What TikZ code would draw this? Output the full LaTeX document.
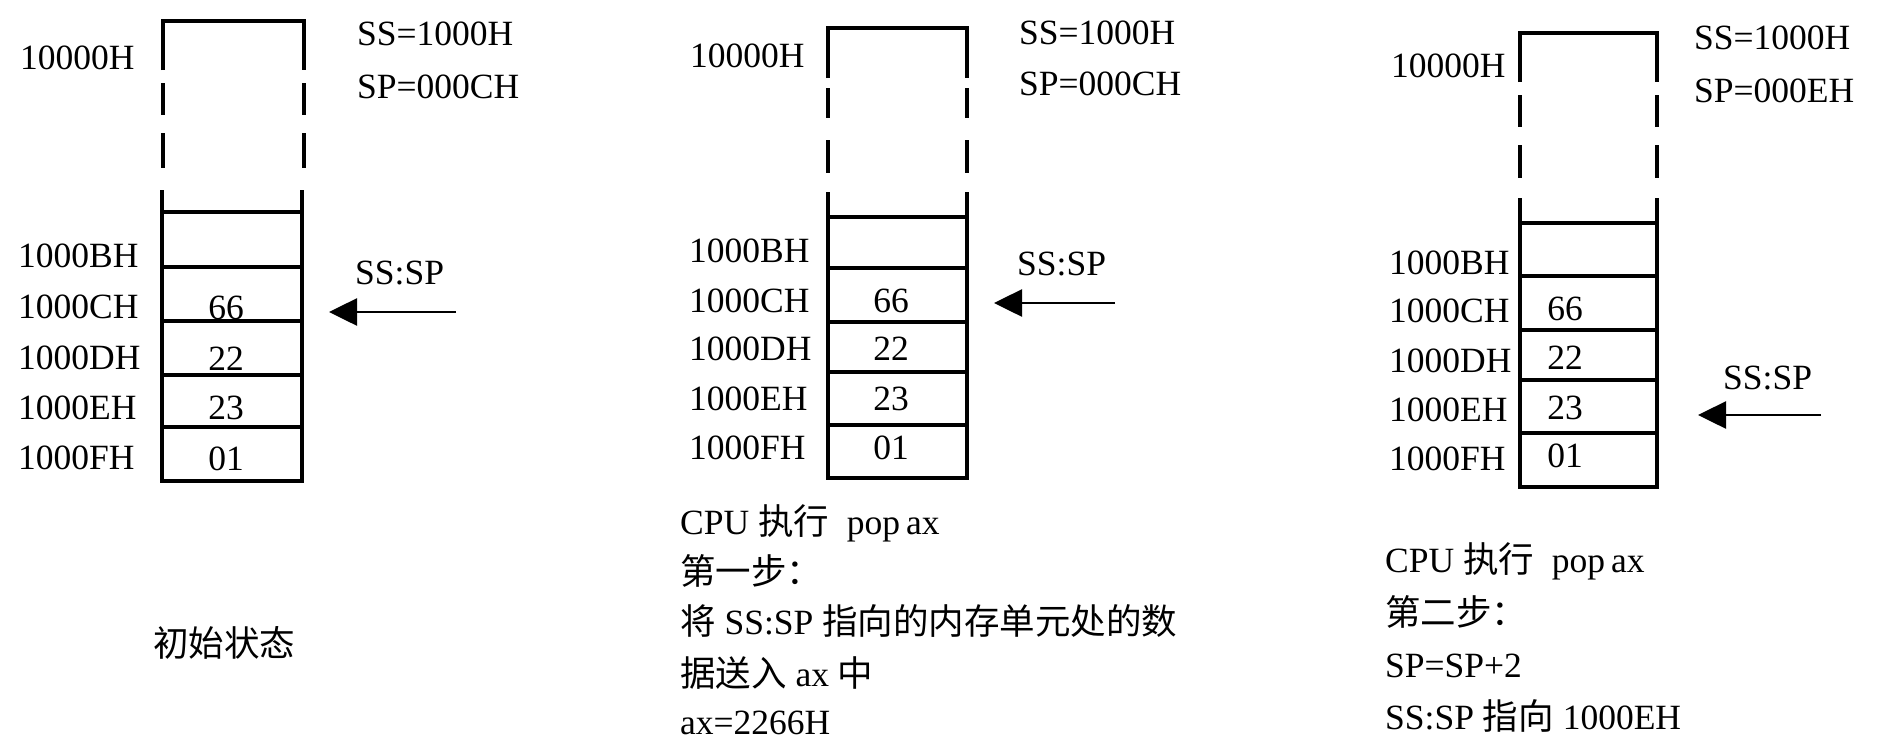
\documentclass[tikz,border=0pt]{standalone}
\usepackage{fontspec}
\setmainfont{Liberation Serif}
\newfontfamily\cjk{Noto Sans CJK SC}
\usetikzlibrary{arrows.meta}
\tikzset{
  lbl/.style={anchor=base west, inner sep=0pt},
  val/.style={anchor=base, inner sep=0pt},
  mem/.style={line width=3.6pt, line join=miter},
  ptr/.style={line width=2.6pt, -{Triangle[length=28pt,width=27pt]}},
}
\begin{document}
\begin{tikzpicture}[x=1pt, y=-1pt, font=\fontsize{35.5}{42}\selectfont]
\useasboundingbox (0,0) rectangle (1904,740);
\fill[white] (0,0) rectangle (1904,740);

% ===== Panel 1 =====
\draw[mem] (163,70) -- (163,21) -- (304,21) -- (304,70);
\draw[mem] (163,83) -- (163,115) (163,133) -- (163,168)
           (304,83) -- (304,115) (304,133) -- (304,168);
\draw[mem] (162,190) -- (162,481) -- (302,481) -- (302,190);
\foreach \y in {212,267,321,375,427} \draw[mem] (162,\y) -- (302,\y);
\node[lbl] (a1top) at (20,69) {10000H};
\node[lbl] (a1b) at (18,267) {1000BH};
\node[lbl] (a1c) at (18,318) {1000CH};
\node[lbl] (a1d) at (18,369) {1000DH};
\node[lbl] (a1e) at (18,419) {1000EH};
\node[lbl] (a1f) at (18,469) {1000FH};
\node[val] (v1c) at (226,319) {66};
\node[val] (v1d) at (226,370) {22};
\node[val] (v1e) at (226,419) {23};
\node[val] (v1f) at (226,470) {01};
\node[lbl] (ss1) at (357,45) {SS=1000H};
\node[lbl] (sp1) at (357,98) {SP=000CH};
\node[lbl] (ptrl1) at (355,284) {SS:SP};
\coordinate (p1s) at (456,312);
\coordinate (p1e) at (329,312);
\draw[ptr] (p1s) -- (p1e);
\node[anchor=west, inner sep=0pt, font=\fontsize{35.5}{42}\selectfont\cjk] (cap1) at (153,643) {初始状态};

% ===== Panel 2 =====
\draw[mem] (828,78) -- (828,28) -- (967,28) -- (967,78);
\draw[mem] (828,88) -- (828,118) (828,140) -- (828,173)
           (967,88) -- (967,118) (967,140) -- (967,173);
\draw[mem] (828,192) -- (828,478) -- (967,478) -- (967,192);
\foreach \y in {217,268,322,372,425} \draw[mem] (828,\y) -- (967,\y);
\node[lbl] (a2top) at (690,67) {10000H};
\node[lbl] (a2b) at (689,262) {1000BH};
\node[lbl] (a2c) at (689,312) {1000CH};
\node[lbl] (a2d) at (689,360) {1000DH};
\node[lbl] (a2e) at (689,410) {1000EH};
\node[lbl] (a2f) at (689,459) {1000FH};
\node[val] (v2c) at (891,312) {66};
\node[val] (v2d) at (891,360) {22};
\node[val] (v2e) at (891,410) {23};
\node[val] (v2f) at (891,459) {01};
\node[lbl] (ss2) at (1019,44) {SS=1000H};
\node[lbl] (sp2) at (1019,95) {SP=000CH};
\node[lbl] (ptrl2) at (1017,275) {SS:SP};
\coordinate (p2s) at (1115,303);
\coordinate (p2e) at (994,303);
\draw[ptr] (p2s) -- (p2e);
\node[lbl] (t2a) at (680,534) {CPU {\cjk 执行}\ \ pop\,ax};
\node[lbl] (t2b) at (680,584) {\cjk 第一步：};
\node[lbl] (t2c) at (680,634) {{\cjk 将} SS:SP {\cjk 指向的内存单元处的数}};
\node[lbl] (t2d) at (680,686) {{\cjk 据送入} ax {\cjk 中}};
\node[lbl] (t2e) at (680,734) {ax=2266H};

% ===== Panel 3 =====
\draw[mem] (1520,82) -- (1520,33) -- (1657,33) -- (1657,82);
\draw[mem] (1520,95) -- (1520,127) (1520,145) -- (1520,178)
           (1657,95) -- (1657,127) (1657,145) -- (1657,178);
\draw[mem] (1520,198) -- (1520,487) -- (1657,487) -- (1657,198);
\foreach \y in {223,276,330,380,433} \draw[mem] (1520,\y) -- (1657,\y);
\node[lbl] (a3top) at (1391,77) {10000H};
\node[lbl] (a3b) at (1389,274) {1000BH};
\node[lbl] (a3c) at (1389,322) {1000CH};
\node[lbl] (a3d) at (1389,372) {1000DH};
\node[lbl] (a3e) at (1389,421) {1000EH};
\node[lbl] (a3f) at (1389,470) {1000FH};
\node[val] (v3c) at (1565,320) {66};
\node[val] (v3d) at (1565,369) {22};
\node[val] (v3e) at (1565,419) {23};
\node[val] (v3f) at (1565,467) {01};
\node[lbl] (ss3) at (1694,49) {SS=1000H};
\node[lbl] (sp3) at (1694,102) {SP=000EH};
\node[lbl] (ptrl3) at (1723,389) {SS:SP};
\coordinate (p3s) at (1821,415);
\coordinate (p3e) at (1698,415);
\draw[ptr] (p3s) -- (p3e);
\node[lbl] (t3a) at (1385,572) {CPU {\cjk 执行}\ \ pop\,ax};
\node[lbl] (t3b) at (1385,625) {\cjk 第二步：};
\node[lbl] (t3c) at (1385,677) {SP=SP+2};
\node[lbl] (t3d) at (1385,729) {SS:SP {\cjk 指向} 1000EH};
\end{tikzpicture}
\end{document}
